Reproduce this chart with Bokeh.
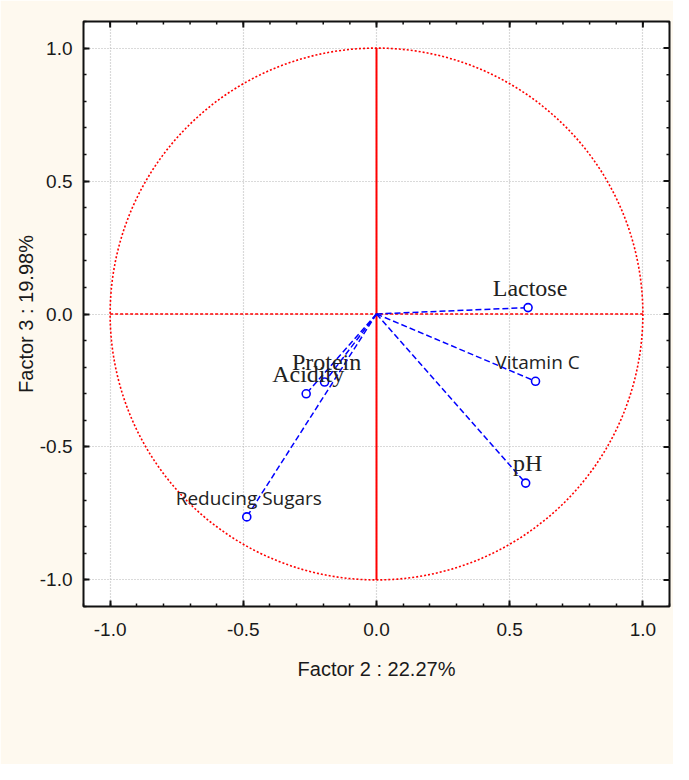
from bokeh.plotting import figure
from bokeh.models import (Range1d, LinearAxis, FixedTicker, ColumnDataSource, LabelSet)
from bokeh.core.properties import value
from bokeh.embed import file_html
from bokeh.resources import INLINE

# ---- data ----
variables = ["Lactose", "Vitamin C", "pH", "Protein", "Acidity", "Reducing Sugars"]
factor2 = [0.569, 0.597, 0.560, -0.195, -0.264, -0.487]
factor3 = [0.024, -0.253, -0.636, -0.256, -0.300, -0.763]
serif_labels = ["Lactose", "pH", "Protein", "Acidity"]
sans_labels = ["Vitamin C", "Reducing Sugars"]

tick_values = [-1.0, -0.5, 0.0, 0.5, 1.0]
tick_labels = ["-1.0", "-0.5", "0.0", "0.5", "1.0"]
minor_values = [round(i / 10, 1) for i in range(-11, 12)]
x_title = "Factor 2 : 22.27%"
y_title = "Factor 3 : 19.98%"
circle_radius = 1.0
axis_limit = 1.1

CREAM = "#fef9ef"
INK = "#111111"

p = figure(width=673, height=764, output_backend="svg", toolbar_location=None,
           x_range=Range1d(-axis_limit, axis_limit), y_range=Range1d(-axis_limit, axis_limit),
           x_axis_location=None, y_axis_location=None,
           min_border_left=83, min_border_right=4, min_border_top=21, min_border_bottom=158)
p.background_fill_color = "white"
p.border_fill_color = CREAM
p.outline_line_color = INK
p.outline_line_width = 2

ticker = FixedTicker(ticks=tick_values, minor_ticks=minor_values)
overrides = {v: l for v, l in zip(tick_values, tick_labels)}

def make_axis():
    ax = LinearAxis(ticker=ticker)
    ax.axis_line_color = None
    ax.major_tick_in = 6
    ax.major_tick_out = 0
    ax.minor_tick_in = 3
    ax.minor_tick_out = 0
    ax.major_tick_line_color = INK
    ax.major_tick_line_width = 2
    ax.minor_tick_line_color = INK
    ax.minor_tick_line_width = 1.5
    ax.major_label_overrides = overrides
    ax.major_label_text_font = "Liberation Sans"
    ax.major_label_text_font_size = "19px"
    ax.major_label_text_color = "#1a1a1a"
    ax.axis_label_text_font = "Liberation Sans"
    ax.axis_label_text_font_size = "20px"
    ax.axis_label_text_font_style = "normal"
    ax.axis_label_text_color = "#1a1a1a"
    return ax

xb = make_axis()
xb.axis_label = x_title
xb.major_label_standoff = 16
xb.axis_label_standoff = 19
p.add_layout(xb, "below")

yl = make_axis()
yl.axis_label = y_title
yl.major_label_standoff = 11
yl.axis_label_standoff = 0
p.add_layout(yl, "left")

for g in (p.xgrid, p.ygrid):
    g.ticker = FixedTicker(ticks=tick_values)
    g.grid_line_color = "#b4b4b4"
    g.grid_line_dash = "1 2"
    g.grid_line_width = 1.2

# inward ticks on the top and right frame edges (mirroring the bottom/left axes)
major_len = 6 / 266.0
minor_len = 3 / 266.0
n_maj, n_min = len(tick_values), len(minor_values)
p.segment(x0=tick_values, y0=[axis_limit] * n_maj, x1=tick_values,
          y1=[axis_limit - major_len] * n_maj, line_color=INK, line_width=2)
p.segment(x0=minor_values, y0=[axis_limit] * n_min, x1=minor_values,
          y1=[axis_limit - minor_len] * n_min, line_color=INK, line_width=1.5)
p.segment(x0=[axis_limit] * n_maj, y0=tick_values, x1=[axis_limit - major_len] * n_maj,
          y1=tick_values, line_color=INK, line_width=2)
p.segment(x0=[axis_limit] * n_min, y0=minor_values, x1=[axis_limit - minor_len] * n_min,
          y1=minor_values, line_color=INK, line_width=1.5)

# red unit circle and axes
p.ellipse(x=0, y=0, width=2 * circle_radius, height=2 * circle_radius,
          fill_color=None, line_color="#ff0000", line_width=1.6, line_dash="2 2")
p.segment(x0=[-circle_radius], y0=[0], x1=[circle_radius], y1=[0],
          line_color="#ff0000", line_width=1.6, line_dash="3 2")
p.segment(x0=[0], y0=[-circle_radius], x1=[0], y1=[circle_radius],
          line_color="#ff0000", line_width=2)

src = ColumnDataSource(dict(x=factor2, y=factor3, name=variables,
                            x0=[0] * len(factor2), y0=[0] * len(factor3)))
p.segment(x0="x0", y0="y0", x1="x", y1="y", source=src,
          line_color="#0000ff", line_width=1.5, line_dash="6 3")
p.scatter(x="x", y="y", source=src, size=8, marker="circle",
          fill_color="white", line_color="#0000ff", line_width=1.6)

serif_idx = [variables.index(n) for n in serif_labels]
sans_idx = [variables.index(n) for n in sans_labels]
src_serif = ColumnDataSource(dict(x=[factor2[i] for i in serif_idx],
                                  y=[factor3[i] for i in serif_idx],
                                  t=[variables[i] for i in serif_idx]))
src_sans = ColumnDataSource(dict(x=[factor2[i] for i in sans_idx],
                                 y=[factor3[i] for i in sans_idx],
                                 t=[variables[i] for i in sans_idx]))
p.add_layout(LabelSet(x="x", y="y", text="t", source=src_serif,
                      text_font=value("Liberation Serif"), text_font_size=value("24px"),
                      text_color="#222222", text_align="center",
                      text_baseline="alphabetic", x_offset=2, y_offset=12))
p.add_layout(LabelSet(x="x", y="y", text="t", source=src_sans,
                      text_font=value("Open Sans"), text_font_size=value("19px"),
                      text_color="#222222", text_align="center",
                      text_baseline="alphabetic", x_offset=2, y_offset=12))

open("out.html", "w").write(file_html(p, INLINE))
